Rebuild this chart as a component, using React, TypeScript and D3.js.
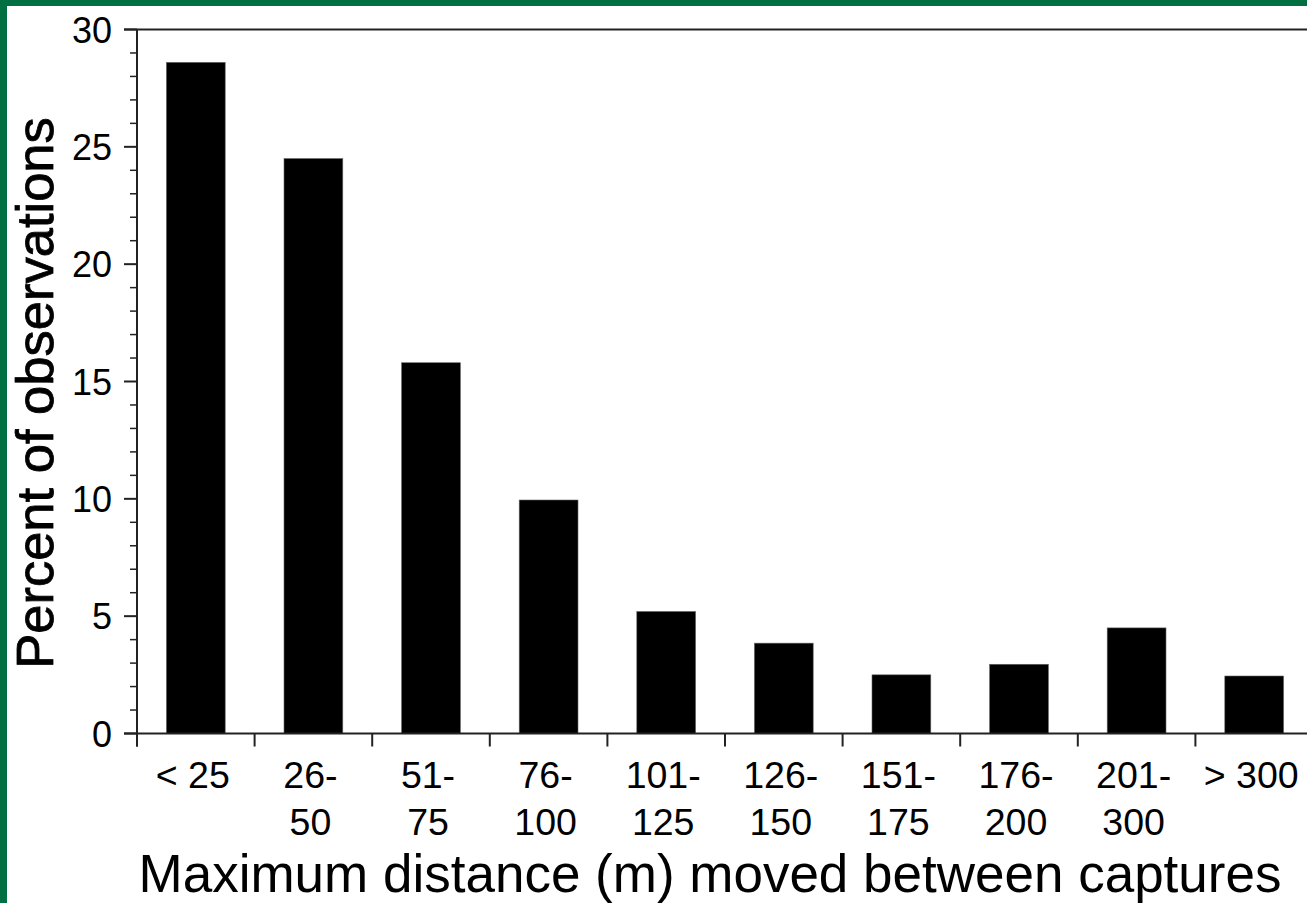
import React from "react";
import * as d3 from "d3";

const categoriesLine1 = ["< 25", "26-", "51-", "76-", "101-", "126-", "151-", "176-", "201-", "> 300"];
const categoriesLine2 = ["", "50", "75", "100", "125", "150", "175", "200", "300", ""];
const percentValues = [28.6, 24.5, 15.8, 9.95, 5.2, 3.85, 2.5, 2.95, 4.5, 2.45];
const yMajorTicks = [0, 5, 10, 15, 20, 25, 30];
const yMinorTicks = d3.range(0, 31, 1).filter((v) => v % 5 !== 0);

const W = 1307;
const H = 903;
const FONT = "'Liberation Sans', Arial, sans-serif";
const AXIS = "#222";

export default function App() {
  const keys = categoriesLine1.map((_, i) => String(i));
  const x = d3
    .scaleBand<string>()
    .domain(keys)
    .range([137, 137 + 10 * 117.6])
    .paddingInner(0.5)
    .paddingOuter(0.25);
  const xStep = x.step();
  const y = d3.scaleLinear().domain([0, 30]).range([733.5, 29.5]);
  const boundary = (k: string) => x(k)! - (xStep - x.bandwidth()) / 2;

  return (
    <div style={{ position: "absolute", left: 0, top: 0 }}>
      <svg width={W} height={H} style={{ display: "block", background: "#fff" }}>
        {/* green frame */}
        <rect x={0} y={0} width={W} height={6} fill="#006F41" />
        <rect x={0} y={0} width={7} height={H} fill="#006F41" />

        {/* bars */}
        {percentValues.map((v, i) => (
          <rect
            key={i}
            x={x(String(i))!}
            y={y(v)}
            width={x.bandwidth()}
            height={y(0) - y(v)}
            fill="#000"
            stroke="#666"
            strokeWidth={0.6}
          />
        ))}

        {/* top frame line */}
        <line x1={124} x2={W} y1={y(30)} y2={y(30)} stroke={AXIS} strokeWidth={2} />
        {/* baseline */}
        <line x1={124} x2={W} y1={y(0)} y2={y(0)} stroke={AXIS} strokeWidth={2} />
        {/* y axis */}
        <line x1={137} x2={137} y1={y(30)} y2={y(0) + 13} stroke={AXIS} strokeWidth={2} />

        {/* y ticks */}
        {yMajorTicks.map((t) => (
          <g key={"M" + t}>
            <line x1={124} x2={137} y1={y(t)} y2={y(t)} stroke={AXIS} strokeWidth={2} />
            <text x={112} y={y(t) + 13} textAnchor="end" fontFamily={FONT} fontSize={36} fill="#000">
              {t}
            </text>
          </g>
        ))}
        {yMinorTicks.map((t) => (
          <line key={"m" + t} x1={130} x2={137} y1={y(t)} y2={y(t)} stroke={AXIS} strokeWidth={1.5} />
        ))}

        {/* x ticks */}
        {keys.map((k) => (
          <line
            key={"xt" + k}
            x1={boundary(k)}
            x2={boundary(k)}
            y1={y(0)}
            y2={y(0) + 13}
            stroke={AXIS}
            strokeWidth={2}
          />
        ))}
        {keys.map((k, i) => {
          const cx = x(k)! + x.bandwidth() / 2 - 3;
          return (
            <g key={"xl" + k}>
              <text x={cx} y={788} textAnchor="middle" fontFamily={FONT} fontSize={37.5} fill="#000">
                {categoriesLine1[i]}
              </text>
              {categoriesLine2[i] && (
                <text x={cx} y={835} textAnchor="middle" fontFamily={FONT} fontSize={37.5} fill="#000">
                  {categoriesLine2[i]}
                </text>
              )}
            </g>
          );
        })}

        {/* axis titles */}
        <text x={710} y={892} textAnchor="middle" fontFamily={FONT} fontSize={53} fill="#000">
          Maximum distance (m) moved between captures
        </text>
        <text
          transform={`translate(53, 393) rotate(-90)`}
          textAnchor="middle"
          fontFamily={FONT}
          fontSize={52.5}
          fill="#000"
          stroke="#000"
          strokeWidth={0.8}
        >
          Percent of observations
        </text>
      </svg>
    </div>
  );
}
